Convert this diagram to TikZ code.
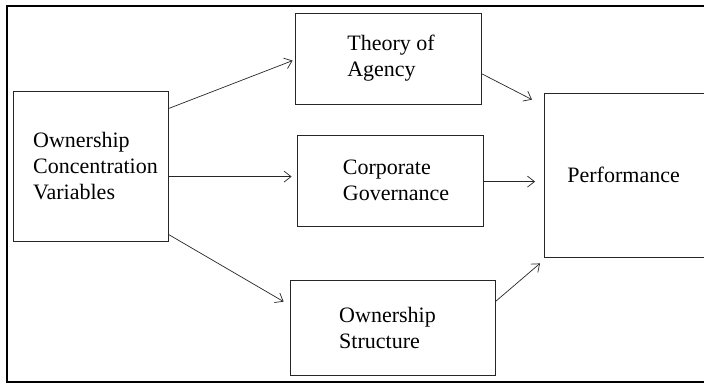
\documentclass[tikz,border=0pt]{standalone}
\usepackage{fontspec}
\setmainfont{Liberation Serif}
\newfontfamily\diagfont{Liberation Serif}
\usetikzlibrary{arrows.meta,positioning}
\begin{document}
\begin{tikzpicture}[x=1pt,y=-1pt,
  box/.style={draw=black!85,line width=0.8pt,inner sep=0pt,align=left,
    font=\diagfont\fontsize{22}{26}\selectfont,text=black},
  conn/.style={draw=black!85,line width=0.7pt,-{Straight Barb[length=7pt,width=11pt,line width=0.7pt]}}]
\useasboundingbox (0,0) rectangle (704,383);
\clip (0,0) rectangle (704,383);
\draw[line width=1.3pt,black] (7,6) rectangle (720,382);
\node[box,minimum width=155pt,minimum height=150pt] (ocv) at (90.5,166) {\hspace*{10pt}Ownership\\\hspace*{10pt}Concentration\\\hspace*{10pt}Variables};
\node[box,minimum width=186pt,minimum height=91pt] (theory) at (388,58.5) {\hspace*{6pt}Theory of\\\hspace*{6pt}Agency};
\node[box,minimum width=186pt,minimum height=91pt] (corp) at (390,180.5) {\hspace*{12pt}Corporate\\\hspace*{12pt}Governance};
\node[box,minimum width=205pt,minimum height=95pt] (own) at (392.5,327.5) {\hspace*{-10pt}Ownership\\\hspace*{-10pt}Structure};
\node[box,anchor=west,text width=140pt,inner xsep=23pt,minimum height=164pt] (perf) at (544,175) {Performance};
\draw[conn] ([yshift=-18pt]ocv.north east) -- ([xshift=-2pt,yshift=-48pt]theory.north west);
\draw[conn] ([yshift=-86pt]ocv.north east) -- ([xshift=-5pt,yshift=-42pt]corp.north west);
\draw[conn] ([yshift=7pt]ocv.south east) -- ([xshift=-6pt,yshift=-22pt]own.north west);
\draw[conn] ([yshift=-61pt]theory.north east) -- ([xshift=-12pt,yshift=-7pt]perf.north west);
\draw[conn] ([yshift=-47pt]corp.north east) -- ([xshift=-9pt,yshift=-89pt]perf.north west);
\draw[conn] ([yshift=-22pt]own.north east) -- ([xshift=-4pt,yshift=-6pt]perf.south west);
\end{tikzpicture}
\end{document}
